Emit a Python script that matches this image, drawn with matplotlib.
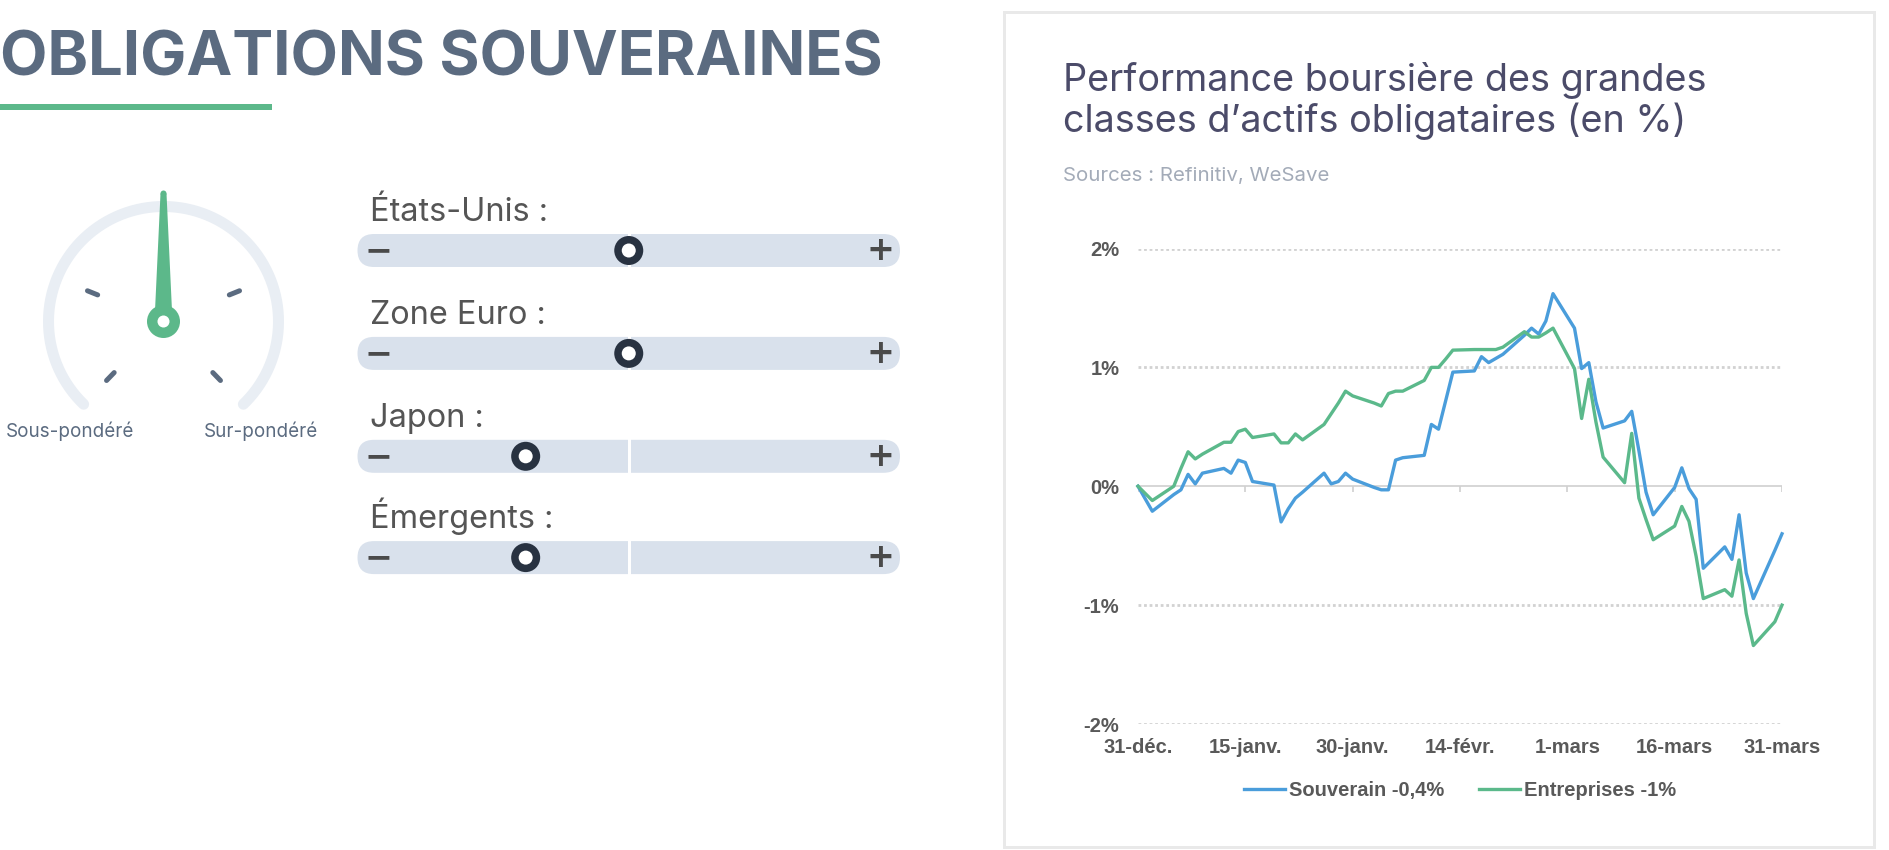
import numpy as np
import matplotlib
matplotlib.use("Agg")
import matplotlib.pyplot as plt
from matplotlib.patches import FancyBboxPatch, Circle, Rectangle, Polygon

# ---- data ----
# days after 31 Dec (business days where the lines bend)
days = [0, 2, 5, 6, 7, 8, 9, 12, 13, 14, 15, 16, 19, 20, 21, 22, 23,
        26, 27, 28, 29, 30, 33, 34, 35, 36, 37, 40, 41, 42, 43, 44,
        47, 48, 49, 50, 51, 54, 55, 56, 57, 58, 61, 62, 63, 64, 65,
        68, 69, 70, 71, 72, 75, 76, 77, 78, 79, 82, 83, 84, 85, 86, 89, 90]

souverain = [0.0, -0.21, -0.07, -0.03, 0.10, 0.02, 0.11, 0.15, 0.11, 0.22, 0.20, 0.04,
             0.01, -0.30, -0.19, -0.10, -0.05,
             0.11, 0.02, 0.04, 0.11, 0.06, -0.01, -0.03, -0.03, 0.22, 0.24,
             0.26, 0.52, 0.48, 0.72, 0.96,
             0.97, 1.09, 1.04, 1.075, 1.11, 1.27, 1.33, 1.28, 1.39, 1.62,
             1.33, 0.99, 1.04, 0.71, 0.49,
             0.55, 0.63, 0.30, -0.05, -0.24,
             -0.01, 0.155, -0.02, -0.11, -0.69,
             -0.51, -0.615, -0.24, -0.73, -0.945, -0.54, -0.40]

entreprises = [0.0, -0.12, 0.0, 0.15, 0.29, 0.23, 0.27, 0.37, 0.37, 0.46, 0.48, 0.41,
               0.44, 0.365, 0.365, 0.44, 0.39,
               0.52, 0.61, 0.70, 0.80, 0.76, 0.70, 0.675, 0.78, 0.80, 0.80,
               0.89, 1.0, 1.0, 1.07, 1.145,
               1.15, 1.15, 1.15, 1.15, 1.17, 1.30, 1.255, 1.255, 1.29, 1.33,
               0.99, 0.57, 0.90, 0.54, 0.245,
               0.03, 0.445, -0.10, -0.28, -0.45,
               -0.335, -0.17, -0.295, -0.59, -0.945,
               -0.87, -0.925, -0.62, -1.07, -1.34, -1.14, -1.0]

tick_days = [0, 15, 30, 45, 60, 75, 90]
tick_labels = ['31-déc.', '15-janv.', '30-janv.', '14-févr.', '1-mars', '16-mars', '31-mars']
y_ticks = [-2, -1, 0, 1, 2]
y_labels = ['-2%', '-1%', '0%', '1%', '2%']

regions = ['États-Unis :', 'Zone Euro :', 'Japon :', 'Émergents :']
region_pos = [0.5, 0.5, 0.31, 0.31]   # 0 = "−", 1 = "+"
gauge_value = 0.5                     # 0 = sous-pondéré, 1 = sur-pondéré

# ---- colours / fonts ----
SLATE = '#5b6b80'
GREEN = '#5cb88a'
BLUE = '#4a9ddb'
CGREEN = '#5bb98b'
TXT = '#595959'
PT = 0.72   # pixels -> points at dpi 100
UI = 'Inter'
XL = 'Liberation Sans'

fig = plt.figure(figsize=(18.9, 8.5), dpi=100)
bg = fig.add_axes([0, 0, 1, 1])
bg.set_xlim(0, 1890)
bg.set_ylim(850, 0)
bg.axis('off')

# title
bg.text(0, 75, 'OBLIGATIONS SOUVERAINES', fontsize=61.5 * PT, fontweight='bold',
        color=SLATE, family=UI, va='baseline')
bg.add_patch(Rectangle((0, 104), 272, 6, color=GREEN, lw=0))

# gauge
cx, cy, R = 163.5, 321.5, 115
th = np.radians(np.linspace(226, -46, 300))
bg.plot(cx + R * np.cos(th), cy - R * np.sin(th), color='#e9eef4',
        lw=11 * PT, solid_capstyle='round')
for a in [158, 22, 226, -46]:
    t = np.radians(a)
    bg.plot([cx + 71 * np.cos(t), cx + 82 * np.cos(t)],
            [cy - 71 * np.sin(t), cy - 82 * np.sin(t)],
            color=SLATE, lw=5 * PT, solid_capstyle='round')
na = np.radians(226 - gauge_value * 272)
ux, uy = np.cos(na), -np.sin(na)
px, py = -uy, ux
L = 128
needle = [(cx + 9 * px, cy + 9 * py), (cx + L * ux + 3 * px, cy + L * uy + 3 * py),
          (cx + L * ux - 3 * px, cy + L * uy - 3 * py), (cx - 9 * px, cy - 9 * py)]
bg.add_patch(Polygon(needle, closed=True, fc=GREEN, ec='none', zorder=3))
bg.add_patch(Circle((cx + L * ux, cy + L * uy), 3, fc=GREEN, ec='none', zorder=3))
bg.add_patch(Circle((cx, cy), 16.5, fc=GREEN, ec='none', zorder=3))
bg.add_patch(Circle((cx, cy), 6, fc='white', ec='none', zorder=3))
bg.text(6, 437, 'Sous-pondéré', fontsize=18.8 * PT, color=SLATE, family=UI, va='baseline')
bg.text(204, 437, 'Sur-pondéré', fontsize=18.8 * PT, color=SLATE, family=UI, va='baseline')

# sliders
x0, x1 = 357.5, 900
rows_y = [250.5, 353.4, 456.3, 557.6]
for name, pos, yy in zip(regions, region_pos, rows_y):
    bg.text(370, yy - 29.5, name, fontsize=32.5 * PT, color='#555555', family=UI, va='baseline')
    bg.add_patch(FancyBboxPatch((x0, yy - 16.5), x1 - x0, 33,
                                boxstyle='round,pad=0,rounding_size=16.5',
                                fc='#d9e1ec', ec='none'))
    bg.plot([(x0 + x1) / 2] * 2, [yy - 16.5, yy + 16.5], color='white', lw=3 * PT)
    bg.text(378.5, yy, '−', fontsize=24, fontweight='bold', color='#4a4a4a',
            family='DejaVu Sans', ha='center', va='center')
    bg.text(880, yy, '+', fontsize=24, fontweight='bold', color='#4a4a4a',
            family='DejaVu Sans', ha='center', va='center')
    kx = x0 + pos * (x1 - x0)
    bg.add_patch(Circle((kx, yy), 14.5, fc='#283241', ec='none', zorder=4))
    bg.add_patch(Circle((kx, yy), 7, fc='white', ec='none', zorder=5))

# chart panel
bg.add_patch(Rectangle((1004, 12), 870, 835, fc='white', ec='#e9e9e9', lw=3 * PT))
bg.text(1063, 131.7, 'Performance boursière des grandes\nclasses d’actifs obligataires (en %)',
        fontsize=37.8 * PT, color='#4b4b69', family=UI, va='baseline', linespacing=1.1)
bg.text(1063, 181, 'Sources : Refinitiv, WeSave', fontsize=20.5 * PT,
        color='#a3abb8', family=UI, va='baseline')

ax = fig.add_axes([1138 / 1890, (850 - 724) / 850, 644 / 1890, (724 - 248.5) / 850])
ax.set_facecolor('none')
ax.set_xlim(0, 90)
ax.set_ylim(-2, 2)
for s in ax.spines.values():
    s.set_visible(False)
for v in [2, 1, -1, -2]:
    ax.axhline(v, color='#d2d2d2', lw=2.0, ls=(0, (1, 1)), zorder=1)
ax.axhline(0, color='#d0d0d0', lw=1.2, zorder=1)
ax.vlines(tick_days, 0, -0.05, color='#d0d0d0', lw=1.2, zorder=1)

ax.plot(days, souverain, color=BLUE, lw=2.4, label='Souverain -0,4%', zorder=3, clip_on=False)
ax.plot(days, entreprises, color=CGREEN, lw=2.4, label='Entreprises -1%', zorder=4, clip_on=False)

ax.set_yticks(y_ticks, y_labels)
ax.set_xticks(tick_days, tick_labels)
ax.tick_params(axis='y', length=0, pad=13.5)
ax.tick_params(axis='x', length=0, pad=10)
for lab in ax.get_xticklabels() + ax.get_yticklabels():
    lab.set_fontfamily(XL)
    lab.set_fontweight('bold')
    lab.set_fontsize(14.5)
    lab.set_color(TXT)

h, l = ax.get_legend_handles_labels()
fig.legend(h, l, loc='center', bbox_to_anchor=(1460 / 1890, (850 - 790.7) / 850),
           ncol=2, frameon=False, handlelength=2.05, handletextpad=0.2,
           columnspacing=1.7, labelcolor=TXT,
           prop={'family': XL, 'weight': 'bold', 'size': 14.5})

fig.savefig('out.png', dpi=100)
